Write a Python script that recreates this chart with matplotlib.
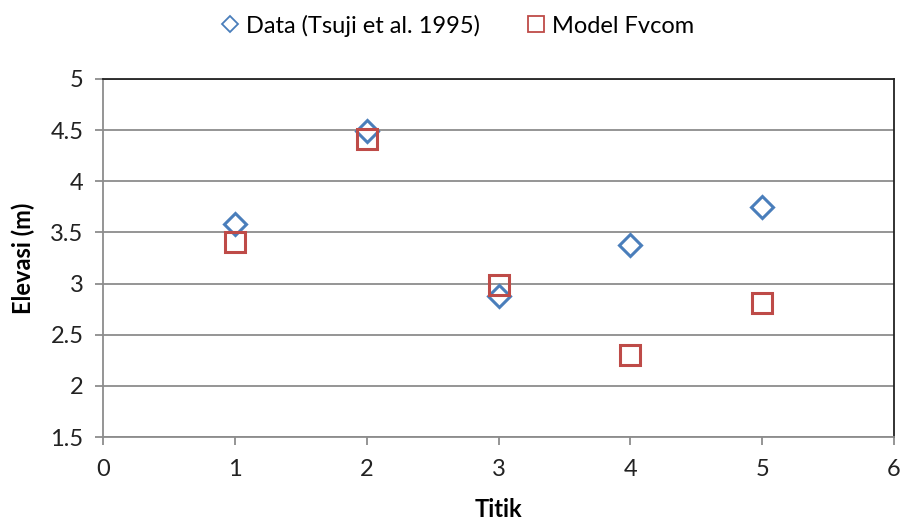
import matplotlib
matplotlib.use("Agg")
import matplotlib.pyplot as plt
from matplotlib.lines import Line2D

plt.rcParams['font.family'] = ['Lato', 'DejaVu Sans']

# titik pengamatan dan elevasi (m)
titik = [1, 2, 3, 4, 5]
data_tsuji = [3.58, 4.49, 2.88, 3.38, 3.75]
model_fvcom = [3.41, 4.41, 2.99, 2.30, 2.81]

x_ticks = [0, 1, 2, 3, 4, 5, 6]
y_ticks = [1.5, 2, 2.5, 3, 3.5, 4, 4.5, 5]
y_labels = ['1.5', '2', '2.5', '3', '3.5', '4', '4.5', '5']

blue = '#4a7ebb'
red = '#be4b48'
grid_col = '#8c8c8c'
fs = 17

fig = plt.figure(figsize=(9.04, 5.23), dpi=100)
ax = fig.add_axes([0.1139, 0.1644, 0.8751, 0.6846])

ax.set_xlim(0, 6)
ax.set_ylim(1.5, 5)
ax.set_xticks(x_ticks)
ax.set_yticks(y_ticks)
ax.set_yticklabels(y_labels)

ax.grid(axis='y', color=grid_col, lw=1.3)
ax.set_axisbelow(True)

ax.plot(titik, data_tsuji, ls='none', marker='D', ms=11.5, mfc='none',
        mec=blue, mew=2.2, clip_on=False)
ax.plot(titik, model_fvcom, ls='none', marker='s', ms=14.5, mfc='none',
        mec=red, mew=2.2, clip_on=False)

for side in ['left', 'bottom']:
    ax.spines[side].set_color(grid_col)
    ax.spines[side].set_linewidth(1.3)
for side in ['top', 'right']:
    ax.spines[side].set_color('#222222')
    ax.spines[side].set_linewidth(1.3)

ax.tick_params(axis='both', direction='out', length=6, width=1.3,
               color=grid_col, labelsize=fs, labelcolor='#222222')
ax.tick_params(axis='y', pad=8)
ax.tick_params(axis='x', pad=10)

ax.set_xlabel('Titik', fontsize=fs, fontweight='bold', labelpad=13)
ax.set_ylabel('Elevasi (m)', fontsize=fs, fontweight='bold', labelpad=11)

handles = [
    Line2D([], [], ls='none', marker='D', ms=8.5, mfc='none', mec=blue, mew=1.3),
    Line2D([], [], ls='none', marker='s', ms=11, mfc='none', mec=red, mew=1.3),
]
fig.legend(handles, ['Data (Tsuji et al. 1995)', 'Model Fvcom'],
           loc='center', bbox_to_anchor=(0.506, 0.951), ncol=2, frameon=False,
           fontsize=fs, handlelength=0.8, handletextpad=0.25, columnspacing=2.0)

fig.savefig('out.png', dpi=100)
